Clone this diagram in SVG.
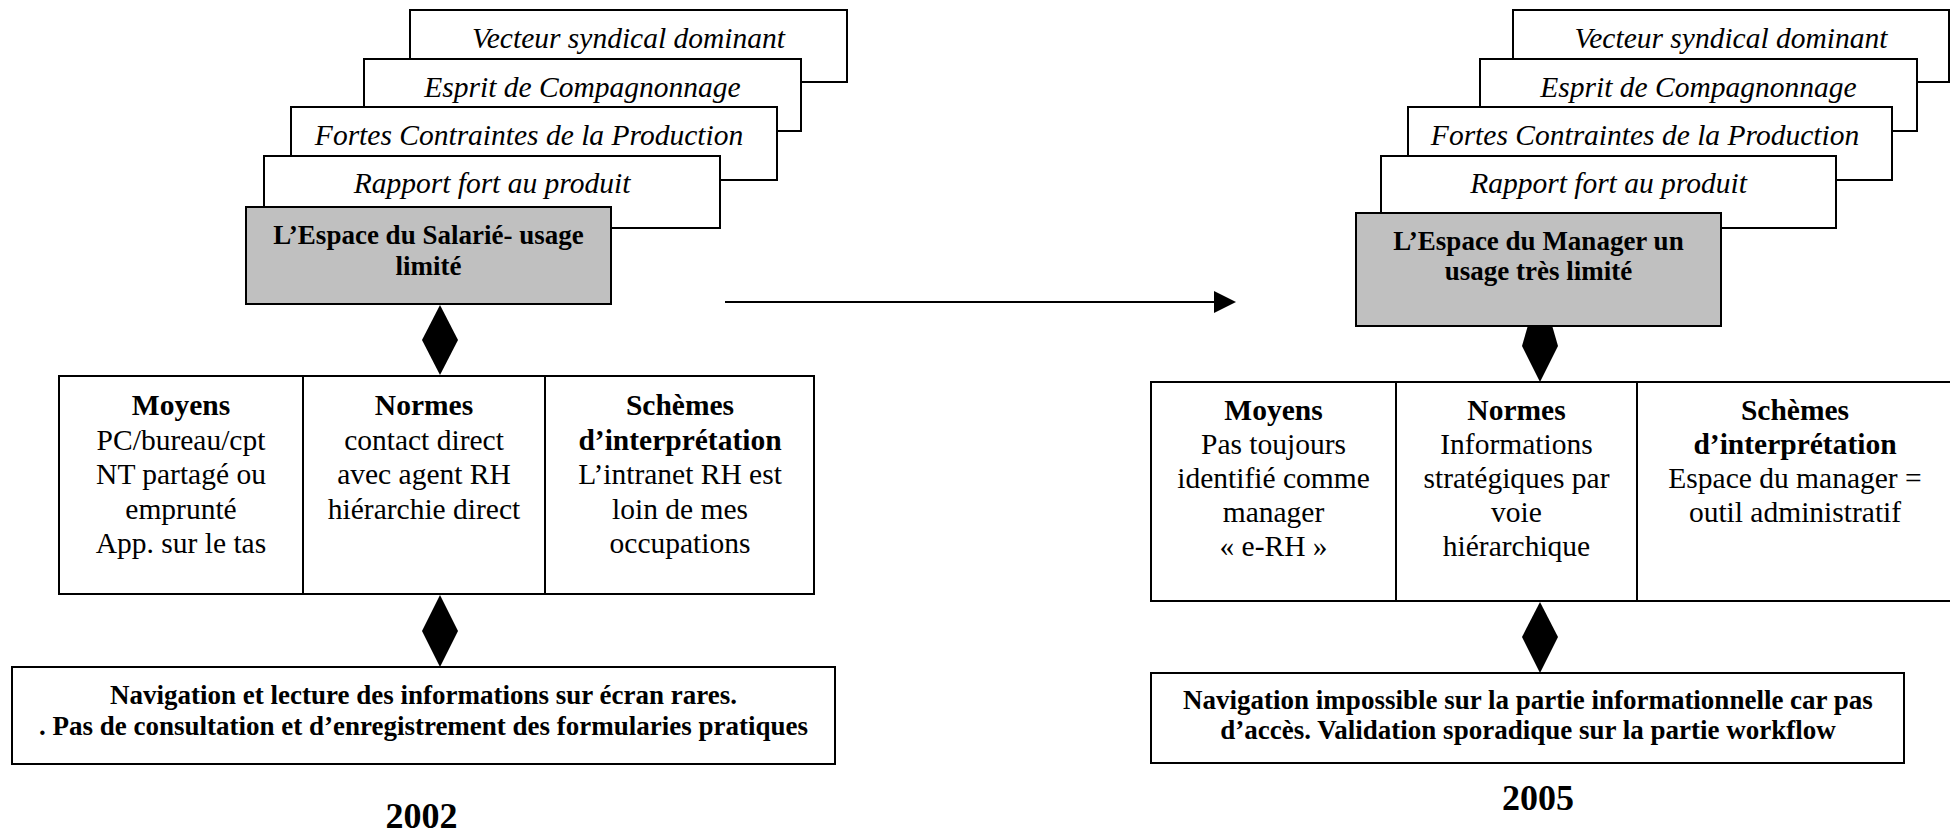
<svg xmlns="http://www.w3.org/2000/svg" width="1950" height="836" viewBox="0 0 1950 836">
<style>
  .box { fill: #ffffff; stroke: #000000; stroke-width: 2; }
  .gray { fill: #c0c0c0; stroke: #000000; stroke-width: 2; }
  .ln { stroke: #000000; stroke-width: 2; fill: none; }
  .head { fill: #000000; stroke: none; }
  text { font-family: "Liberation Serif", "Times New Roman", serif; fill: #000000; text-anchor: middle; }
  .it { font-style: italic; font-size: 29.5px; }
  .reg { font-size: 29.5px; }
  .b { font-weight: bold; font-size: 29.5px; }
  .b27 { font-weight: bold; font-size: 27px; }
  .yr { font-weight: bold; font-size: 36px; }
</style>
<rect width="1950" height="836" fill="#ffffff"/>

<!-- LEFT (2002) -->
<g id="l-vecteur"><rect class="box" x="410" y="10" width="437" height="72"/><text class="it" x="628.5" y="48">Vecteur syndical dominant</text></g>
<g id="l-esprit"><rect class="box" x="364" y="59" width="437" height="72"/><text class="it" x="582.5" y="97">Esprit de Compagnonnage</text></g>
<g id="l-fortes"><rect class="box" x="291" y="107" width="486" height="73"/><text class="it" x="529" y="145">Fortes Contraintes de la Production</text></g>
<g id="l-rapport"><rect class="box" x="264" y="156" width="456" height="72"/><text class="it" x="492" y="193">Rapport fort au produit</text></g>
<g id="l-espace"><rect class="gray" x="246" y="207" width="365" height="97"/><text class="b27" x="428.5" y="244">L’Espace du Salarié- usage</text><text class="b27" x="428.5" y="275">limité</text></g>

<g id="l-table">
  <rect class="box" x="59" y="376" width="755" height="218"/>
  <line class="ln" x1="303" y1="376" x2="303" y2="594"/>
  <line class="ln" x1="545" y1="376" x2="545" y2="594"/>
  <text class="b" x="181" y="415">Moyens</text>
  <text class="reg" x="181" y="449.5">PC/bureau/cpt</text>
  <text class="reg" x="181" y="484">NT partagé ou</text>
  <text class="reg" x="181" y="518.5">emprunté</text>
  <text class="reg" x="181" y="553">App. sur le tas</text>
  <text class="b" x="424" y="415">Normes</text>
  <text class="reg" x="424" y="449.5">contact direct</text>
  <text class="reg" x="424" y="484">avec agent RH</text>
  <text class="reg" x="424" y="518.5">hiérarchie direct</text>
  <text class="b" x="680" y="415">Schèmes</text>
  <text class="b" x="680" y="449.5">d’interprétation</text>
  <text class="reg" x="680" y="484">L’intranet RH est</text>
  <text class="reg" x="680" y="518.5">loin de mes</text>
  <text class="reg" x="680" y="553">occupations</text>
</g>

<g id="l-usage"><rect class="box" x="12" y="667" width="823" height="97"/><text class="b27" x="423.5" y="704">Navigation et lecture des informations sur écran rares.</text><text class="b27" x="423.5" y="735">. Pas de consultation et d’enregistrement des formularies pratiques</text></g>

<g id="l-year"><text class="yr" x="421.5" y="828">2002</text></g>

<!-- RIGHT (2005) -->
<g id="r-vecteur"><rect class="box" x="1513" y="10" width="436" height="72"/><text class="it" x="1731" y="48">Vecteur syndical dominant</text></g>
<g id="r-esprit"><rect class="box" x="1480" y="59" width="437" height="72"/><text class="it" x="1698.5" y="97">Esprit de Compagnonnage</text></g>
<g id="r-fortes"><rect class="box" x="1408" y="107" width="484" height="73"/><text class="it" x="1645" y="145">Fortes Contraintes de la Production</text></g>
<g id="r-rapport"><rect class="box" x="1381" y="156" width="455" height="72"/><text class="it" x="1608.5" y="193">Rapport fort au produit</text></g>
<g id="r-espace"><rect class="gray" x="1356" y="213" width="365" height="113"/><text class="b27" x="1538.5" y="250">L’Espace du Manager un</text><text class="b27" x="1538.5" y="280">usage très limité</text></g>

<g id="r-table">
  <rect class="box" x="1151" y="382" width="802" height="219"/>
  <line class="ln" x1="1396" y1="382" x2="1396" y2="601"/>
  <line class="ln" x1="1637" y1="382" x2="1637" y2="601"/>
  <text class="b" x="1273.5" y="420">Moyens</text>
  <text class="reg" x="1273.5" y="454">Pas toujours</text>
  <text class="reg" x="1273.5" y="488">identifié comme</text>
  <text class="reg" x="1273.5" y="522">manager</text>
  <text class="reg" x="1273.5" y="556">« e-RH »</text>
  <text class="b" x="1516.5" y="420">Normes</text>
  <text class="reg" x="1516.5" y="454">Informations</text>
  <text class="reg" x="1516.5" y="488">stratégiques par</text>
  <text class="reg" x="1516.5" y="522">voie</text>
  <text class="reg" x="1516.5" y="556">hiérarchique</text>
  <text class="b" x="1795" y="420">Schèmes</text>
  <text class="b" x="1795" y="454">d’interprétation</text>
  <text class="reg" x="1795" y="488">Espace du manager =</text>
  <text class="reg" x="1795" y="522">outil administratif</text>
</g>

<g id="r-usage"><rect class="box" x="1151" y="673" width="753" height="90"/><text class="b27" x="1528" y="709">Navigation impossible sur la partie informationnelle car pas</text><text class="b27" x="1528" y="739">d’accès. Validation sporadique sur la partie workflow</text></g>

<g id="r-year"><text class="yr" x="1538" y="810">2005</text></g>

<!-- CONNECTORS -->
<g id="connectors">
  <line class="ln" x1="725" y1="302" x2="1215" y2="302"/>
  <polygon class="head" points="1214,291 1236,302 1214,313"/>
  <polygon class="head" points="440,305 458,340 422,340"/>
  <polygon class="head" points="422,340 458,340 440,375"/>
  <polygon class="head" points="440,595 458,631 422,631"/>
  <polygon class="head" points="422,631 458,631 440,667"/>
  <polygon class="head" points="1527.5,327 1552.5,327 1558,346 1522,346"/>
  <polygon class="head" points="1522,346 1558,346 1540,382"/>
  <polygon class="head" points="1540,602 1558,637 1522,637"/>
  <polygon class="head" points="1522,637 1558,637 1540,673"/>
</g>
</svg>
